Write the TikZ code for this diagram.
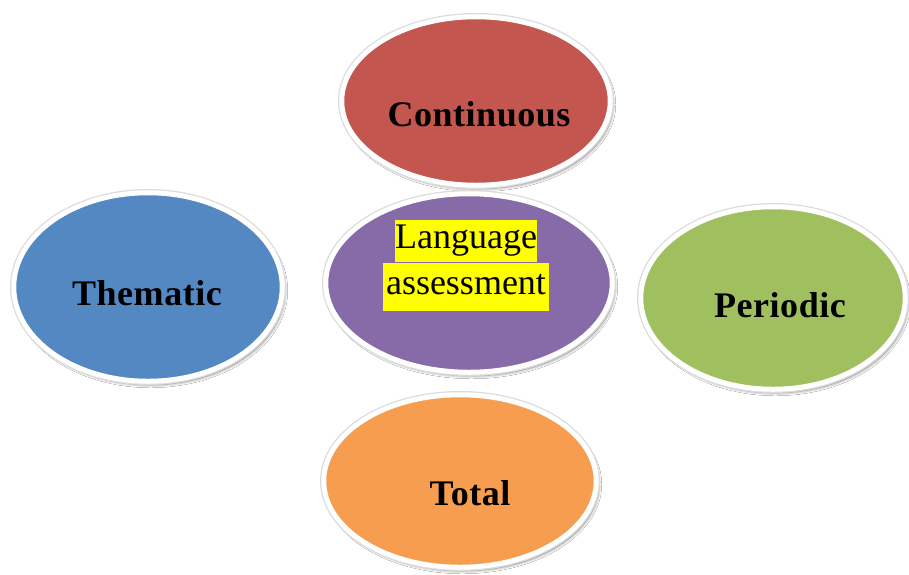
\documentclass[tikz,border=0pt]{standalone}
\usepackage{fontspec}
\setmainfont{Liberation Serif}
\newfontfamily\lblfont[LetterSpace=1.5]{Liberation Serif}
\usetikzlibrary{shapes.geometric,shadows.blur}
\definecolor{cred}{HTML}{C3564F}
\definecolor{cpurple}{HTML}{876AA8}
\definecolor{cblue}{HTML}{5488C2}
\definecolor{cgreen}{HTML}{A0C060}
\definecolor{corange}{HTML}{F79D50}
\definecolor{hl}{HTML}{FFFF00}
\begin{document}
\begin{tikzpicture}[x=1pt,y=-1pt,
  bub/.style={ellipse, inner sep=0pt, outer sep=0pt,
    blur shadow={shadow xshift=2.5pt, shadow yshift=-3.5pt, shadow blur radius=3pt, shadow opacity=55},
    preaction={draw=black!14, line width=7.5pt},
    draw=white, line width=5pt},
  lbl/.style={font=\fontsize{36}{42}\lblfont\bfseries, text=black, inner sep=0pt},
  hlbl/.style={font=\fontsize{36}{42}\selectfont, text=black, inner sep=0pt, align=center}]
\useasboundingbox (0,0) rectangle (909,574);
\fill[white] (0,0) rectangle (909,574);

\node[bub, fill=cred, minimum width=268.5pt, minimum height=168.5pt] (cont) at (476,101) {};
\node[bub, fill=cpurple, minimum width=286.5pt, minimum height=178.5pt] (lang) at (469,283) {};
\node[bub, fill=cblue, minimum width=268.5pt, minimum height=188.5pt] (them) at (148,287) {};
\node[bub, fill=cgreen, minimum width=264.5pt, minimum height=182.5pt] (peri) at (773,298) {};
\node[bub, fill=corange, minimum width=272.5pt, minimum height=172.5pt] (tot) at (460,481) {};

\node[lbl] (contT) at (479,114) {Continuous};
\node[hlbl] (langT) at (466,265) {\setlength{\fboxsep}{0pt}\colorbox{hl}{\strut Language}\\\colorbox{hl}{\strut assessment}};
\node[lbl] (themT) at (147,293) {Thematic};
\node[lbl] (periT) at (780,305) {Periodic};
\node[lbl] (totT) at (470,493) {Total};
\end{tikzpicture}
\end{document}
